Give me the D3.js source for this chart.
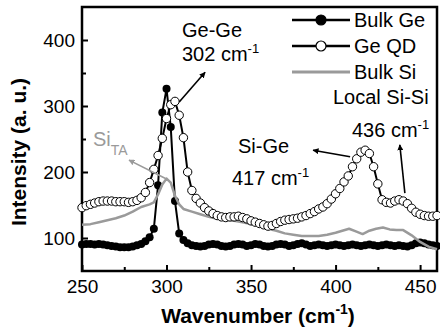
<!DOCTYPE html>
<html>
<head>
<meta charset="utf-8">
<script src="https://cdn.jsdelivr.net/npm/d3@7/dist/d3.min.js"></script>
<style>
  body { margin: 0; background: #fff; }
  svg { display: block; font-family: 'Liberation Sans', Arial, sans-serif; }
</style>
</head>
<body>
<div id="chart-area"></div>
<script>
// Raman spectra: Bulk Ge, Ge QD, Bulk Si

// shared wavenumber grid for Bulk Ge and Ge QD
var gridWave = [
	250, 252.5, 255, 257.5, 260, 262.5, 265, 267.5, 270, 272.5,
	275, 277.5, 280, 282.5, 285, 287.5, 290, 292.5, 295, 297.5,
	300, 302.5, 305, 307.5, 310, 312.5, 315, 317.5, 320, 322.5,
	325, 327.5, 330, 332.5, 335, 337.5, 340, 342.5, 345, 347.5,
	350, 352.5, 355, 357.5, 360, 362.5, 365, 367.5, 370, 372.5,
	375, 377.5, 380, 382.5, 385, 387.5, 390, 392.5, 395, 397.5,
	400, 402.5, 405, 407.5, 410, 412.5, 415, 417.5, 420, 422.5,
	425, 427.5, 430, 432.5, 435, 437.5, 440, 442.5, 445, 447.5,
	450, 452.5, 455, 457.5, 460
];

var bulkGe = [
	90, 91, 91, 90, 91, 90, 89, 88, 87, 86,
	86, 86, 87, 89, 91, 95, 101, 114, 180, 290,
	326, 268, 156, 107, 97, 92, 89, 88, 87, 88,
	90, 91, 90, 88, 87, 88, 90, 91, 90, 88,
	89, 91, 90, 88, 87, 88, 90, 91, 90, 88,
	89, 91, 92, 90, 88, 89, 90, 89, 88, 89,
	90, 89, 88, 89, 90, 89, 88, 89, 90, 89,
	88, 89, 90, 89, 88, 89, 88, 87, 89, 92,
	93, 92, 90, 89, 88
];

var geQD = [
	146, 149, 151, 153, 155, 156, 156, 156, 155, 155,
	155, 154, 155, 157, 161, 169, 184, 204, 225, 251,
	281, 302, 307, 286, 252, 200, 172, 160, 153, 146,
	141, 137, 134, 132, 131, 132, 132, 133, 131, 129,
	126, 124, 122, 120, 118, 119, 122, 125, 127, 128,
	129, 130, 132, 134, 137, 140, 144, 147, 152, 159,
	167, 175, 185, 194, 208, 220, 230, 233, 228, 208,
	182, 158, 154, 153, 156, 158, 156, 152, 145, 139,
	136, 134, 133, 133, 134
];

var siWave = [
	250, 255, 260, 265, 270, 275, 280, 285, 290,
	292.5, 295, 297.5, 300, 302.5, 305, 307.5, 310,
	315, 320, 325, 330, 335, 340, 345, 350, 355, 360, 365, 370, 375, 380, 385, 390, 395, 400,
	404, 408, 412, 416, 420, 424, 428, 432, 436, 440,
	445, 450, 455, 460
];

var bulkSi = [
	120, 121, 124, 127, 130, 134, 140, 147, 151,
	154, 166, 181, 190, 184, 164, 151, 144,
	140, 136, 132, 129, 128, 126, 124, 121, 118, 114, 111, 107, 105, 103, 103, 103, 105, 108,
	111, 114, 110, 106, 111, 114, 116, 113, 112, 112,
	104, 94, 87, 83
];

var xTicks = [250, 300, 350, 400, 450];
var xMinor = [275, 325, 375, 425];
var yTicks = [100, 200, 300, 400];
var yMinor = [150, 250, 350];

var legendNames = ['Bulk Ge', 'Ge QD', 'Bulk Si'];

var svg = d3.select('#chart-area')
	.append('svg')
		.attr('width', 440)
		.attr('height', 330);

var x = d3.scaleLinear().domain([250, 460]).range([82, 437]);
var y = d3.scaleLinear().domain([50, 450]).range([271, 7]);

var GRAY = '#9a9a9a';

// arrow heads
var defs = svg.append('defs');
[['arrBlack', '#000'], ['arrGray', GRAY]].forEach(function(a) {
	defs.append('marker')
		.attr('id', a[0])
		.attr('viewBox', '0 0 10 10')
		.attr('refX', 9).attr('refY', 5)
		.attr('markerWidth', 6).attr('markerHeight', 6)
		.attr('markerUnits', 'userSpaceOnUse')
		.attr('orient', 'auto')
		.append('path')
			.attr('d', 'M0,0 L10,5 L0,10 Z')
			.attr('fill', a[1]);
});

// axes with inward ticks
svg.append('g')
	.attr('transform', 'translate(0,' + y(50) + ')')
	.call(d3.axisBottom(x).tickValues(xTicks).tickSize(-6).tickSizeOuter(0).tickPadding(9));
svg.append('g')
	.attr('transform', 'translate(0,' + y(50) + ')')
	.call(d3.axisBottom(x).tickValues(xMinor).tickSize(-4).tickSizeOuter(0).tickFormat(''));

svg.append('g')
	.attr('transform', 'translate(' + x(250) + ',0)')
	.call(d3.axisLeft(y).tickValues(yTicks).tickSize(-6).tickSizeOuter(0).tickPadding(7));
svg.append('g')
	.attr('transform', 'translate(' + x(250) + ',0)')
	.call(d3.axisLeft(y).tickValues(yMinor).tickSize(-4).tickSizeOuter(0).tickFormat(''));

svg.selectAll('.domain').remove();
svg.selectAll('.tick line').attr('stroke', '#000').attr('stroke-width', 2);
svg.selectAll('.tick text')
	.attr('font-family', "'Liberation Sans', Arial, sans-serif")
	.attr('font-size', 19)
	.attr('fill', '#000');

// frame
svg.append('rect')
	.attr('x', x(250)).attr('y', y(450))
	.attr('width', x(460) - x(250))
	.attr('height', y(50) - y(450))
	.attr('fill', 'none')
	.attr('stroke', '#000')
	.attr('stroke-width', 2.5);

// axis titles
var xt = svg.append('text')
	.attr('x', 258).attr('y', 323)
	.attr('text-anchor', 'middle')
	.attr('font-size', 21)
	.attr('font-weight', 'bold');
xt.append('tspan').text('Wavenumber (cm');
xt.append('tspan').attr('font-size', 14).attr('dy', -9).text('-1');
xt.append('tspan').attr('dy', 9).text(')');

svg.append('text')
	.attr('transform', 'translate(26,152) rotate(-90)')
	.attr('text-anchor', 'middle')
	.attr('font-size', 21)
	.attr('font-weight', 'bold')
	.text('Intensity (a. u.)');

// series
var plot = svg.append('g');
var geLine = d3.line().x(function(d, i) { return x(gridWave[i]); }).y(function(d) { return y(d); });
var siLine = d3.line().x(function(d, i) { return x(siWave[i]); }).y(function(d) { return y(d); });

plot.append('path')
	.attr('d', geLine(bulkGe))
	.attr('fill', 'none').attr('stroke', '#000').attr('stroke-width', 2);
plot.selectAll('.geDot')
	.data(bulkGe)
	.enter().append('circle')
		.attr('class', 'geDot')
		.attr('cx', function(d, i) { return x(gridWave[i]); })
		.attr('cy', function(d) { return y(d); })
		.attr('r', 4)
		.attr('fill', '#000');

plot.append('path')
	.attr('d', siLine(bulkSi))
	.attr('fill', 'none').attr('stroke', GRAY).attr('stroke-width', 2.5)
	.attr('stroke-linejoin', 'round');

plot.append('path')
	.attr('d', geLine(geQD))
	.attr('fill', 'none').attr('stroke', '#000').attr('stroke-width', 2);
plot.selectAll('.qdDot')
	.data(geQD)
	.enter().append('circle')
		.attr('class', 'qdDot')
		.attr('cx', function(d, i) { return x(gridWave[i]); })
		.attr('cy', function(d) { return y(d); })
		.attr('r', 4.2)
		.attr('fill', '#fff')
		.attr('stroke', '#000')
		.attr('stroke-width', 1);

// legend
var legend = svg.append('g');
legendNames.forEach(function(name, i) {
	var ly = 20 + i * 26;
	legend.append('line')
		.attr('x1', 292).attr('x2', 350).attr('y1', ly).attr('y2', ly)
		.attr('stroke', i == 2 ? GRAY : '#000')
		.attr('stroke-width', i == 2 ? 3 : 2.5);
	if (i < 2) {
		legend.append('circle')
			.attr('cx', 321).attr('cy', ly).attr('r', 5)
			.attr('fill', i == 0 ? '#000' : '#fff')
			.attr('stroke', '#000').attr('stroke-width', 1.2);
	}
	legend.append('text')
		.attr('x', 354).attr('y', ly + 7)
		.attr('font-size', 20)
		.text(name);
});

// annotations
function label(tx, ty, main, sup) {
	var t = svg.append('text').attr('x', tx).attr('y', ty).attr('font-size', 20);
	t.append('tspan').text(main);
	if (sup) t.append('tspan').attr('font-size', 13).attr('dy', -8).text(sup);
	return t;
}
function arrow(x1, y1, x2, y2, color, id) {
	svg.append('line')
		.attr('x1', x1).attr('y1', y1).attr('x2', x2).attr('y2', y2)
		.attr('stroke', color).attr('stroke-width', 1.6)
		.attr('marker-end', 'url(#' + id + ')');
}

label(182, 37, 'Ge-Ge');
label(182, 61, '302 cm', '-1');
arrow(x(307.5), y(306), x(322.8), y(351), '#000', 'arrBlack');

label(238, 153, 'Si-Ge');
label(232, 185, '417 cm', '-1');
arrow(x(408.6), y(223), x(386.7), y(233), '#000', 'arrBlack');

label(333, 104, 'Local Si-Si');
label(352, 137, '436 cm', '-1');
arrow(x(441), y(168), x(438), y(241), '#000', 'arrBlack');

var sita = svg.append('text').attr('x', 93).attr('y', 146).attr('font-size', 20).attr('fill', GRAY);
sita.append('tspan').text('Si');
sita.append('tspan').attr('font-size', 14).attr('dy', 9).text('TA');
arrow(x(300.3), y(189), x(277.8), y(218), GRAY, 'arrGray');
</script>
</body>
</html>
